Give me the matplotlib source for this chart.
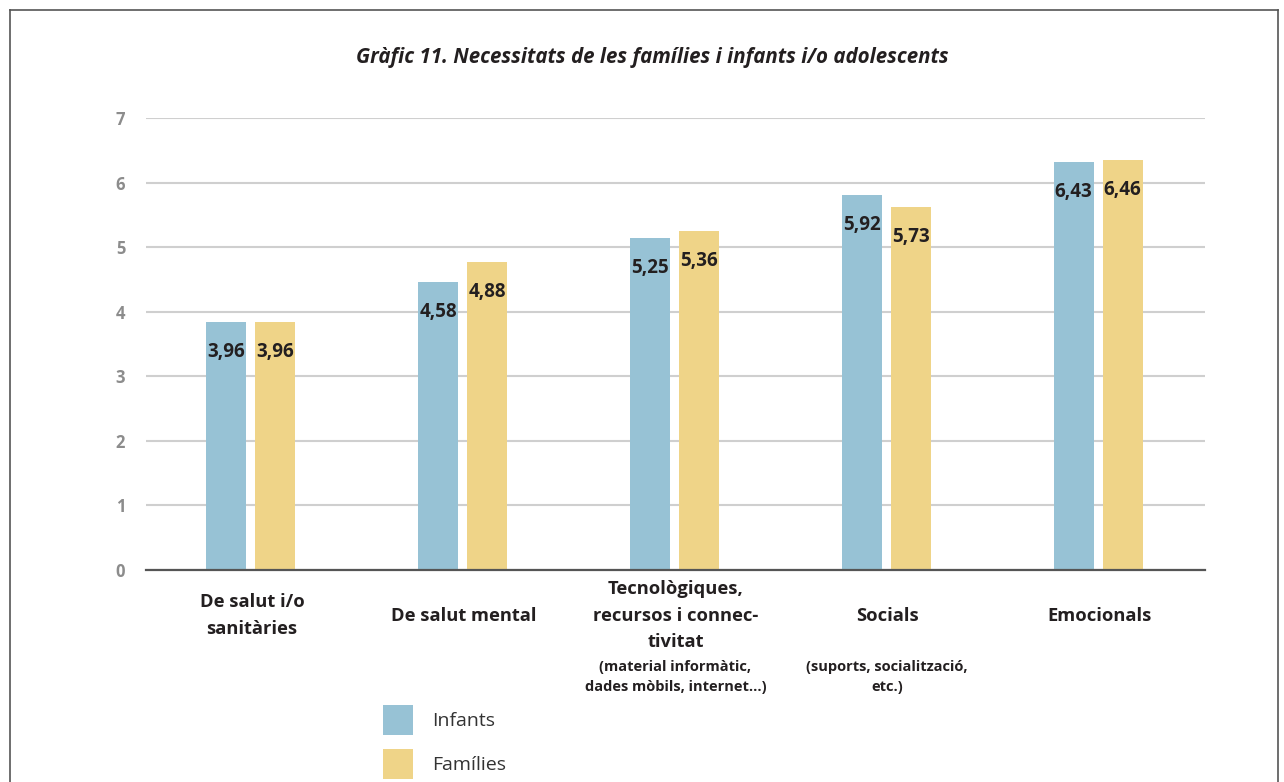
import matplotlib
matplotlib.use("Agg")
import matplotlib.pyplot as plt
from matplotlib.transforms import blended_transform_factory
from matplotlib.lines import Line2D

categories = ["De salut i/o\nsanitàries", "De salut mental",
              "Tecnològiques,\nrecursos i connec-\ntivitat", "Socials", "Emocionals"]
subnotes = ["", "", "(material informàtic,\ndades mòbils, internet...)",
            "(suports, socialització,\netc.)", ""]
infants = [3.96, 4.58, 5.25, 5.92, 6.43]
families = [3.96, 4.88, 5.36, 5.73, 6.46]
series_names = ["Infants", "Famílies"]
yticks = [0, 1, 2, 3, 4, 5, 6, 7]
title = "Gràfic 11. Necessitats de les famílies i infants i/o adolescents"

BLUE = "#97c2d5"
YELLOW = "#efd488"
DARK = "#231f20"

W, H = 1284, 782
fig = plt.figure(figsize=(W / 100, H / 100), dpi=100)
plt.rcParams['font.family'] = ['Open Sans', 'DejaVu Sans']

ax = fig.add_axes([146 / W, 1 - 570 / H, 1059 / W, 452 / H])

x = list(range(len(categories)))
bw = 0.189
gap = 0.0425
off = (bw + gap) / 2
base = -0.115  # bars in the original sit slightly below the baseline
b1 = ax.bar([i - off - 0.005 for i in x], infants, bw, bottom=base, color=BLUE, label=series_names[0], zorder=2)
b2 = ax.bar([i + off - 0.005 for i in x], families, bw, bottom=base, color=YELLOW, label=series_names[1], zorder=2)

for bars, vals in ((b1, infants), (b2, families)):
    for rect, v in zip(bars, vals):
        ax.annotate(f"{v:.2f}".replace(".", ","),
                    (rect.get_x() + rect.get_width() / 2, rect.get_y() + rect.get_height()),
                    xytext=(0, -21.5), textcoords="offset points",
                    ha="center", va="center", fontsize=13.5, fontweight="bold",
                    color=DARK, zorder=3)

ax.set_xlim(-0.5, len(categories) - 0.5)
ax.set_ylim(0, 7)
ax.set_yticks(yticks)
ax.set_yticklabels([str(t) for t in yticks], fontsize=12, fontweight="bold", color="#8c8c8c")
ax.tick_params(axis="y", length=0, pad=15)
ax.grid(axis="y", color="#cfcfcf", linewidth=1.5, zorder=0)
ax.set_axisbelow(True)
for s in ("top", "right", "left"):
    ax.spines[s].set_visible(False)
ax.spines["bottom"].set_color("#555555")
ax.spines["bottom"].set_linewidth(1.6)
ax.spines["bottom"].set_zorder(4)

ax.set_xticks(x)
ax.set_xticklabels(categories, fontsize=13.2, fontweight="bold", color=DARK,
                   va="center", linespacing=1.62)
ax.tick_params(axis="x", length=0, pad=32.8)

trans = blended_transform_factory(ax.transData, fig.transFigure)
for i, note in enumerate(subnotes):
    if note:
        ax.text(i, 1 - 677 / H, note, transform=trans, ha="center", va="center",
                fontsize=10.5, fontweight="bold", color=DARK, linespacing=1.6)

fig.text(652 / W, 1 - 58 / H, title, ha="center", va="center", fontsize=14.8,
         fontweight="bold", fontstyle="italic", color=DARK)

# frame around the figure
for xs, ys in (([10, 1278], [10, 10]), ([10, 10], [10, H + 5]), ([1278, 1278], [10, H + 5])):
    fig.add_artist(Line2D([v / W for v in xs], [1 - v / H for v in ys],
                          color="#555555", linewidth=1.2, transform=fig.transFigure))

fig.legend(handles=[b1, b2], labels=series_names, loc="upper left",
           bbox_to_anchor=(383 / W, 1 - 705 / H), frameon=False, fontsize=14,
           handlelength=1.54, handleheight=2.0, handletextpad=1.0,
           labelspacing=0.72, borderpad=0, borderaxespad=0, labelcolor="#333333")

fig.savefig("out.png", dpi=100, facecolor="white")
